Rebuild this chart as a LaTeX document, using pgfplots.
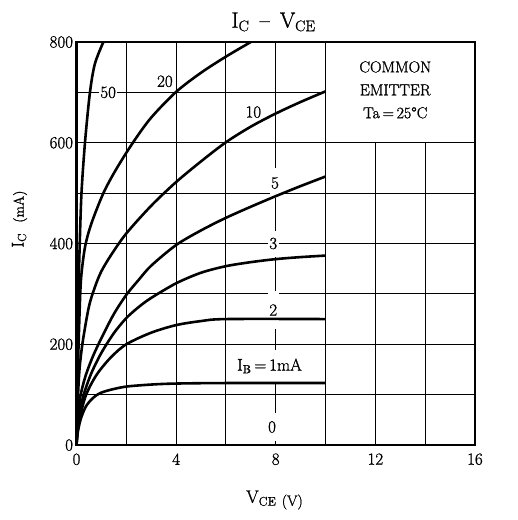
\documentclass[border=0pt]{standalone}
\usepackage{fontspec}
\setmainfont{Latin Modern Roman}[AutoFakeBold=1.2]
\usepackage{pgfplots}
\pgfplotsset{compat=1.18}

\begin{document}
\begin{tikzpicture}[every node/.append style={font=\bfseries}]
\begin{axis}[
    at={(0,0)}, anchor=south west,
    scale only axis,
    width=398.5bp, height=403bp,
    xmin=0, xmax=16, ymin=0, ymax=800,
    xtick={0,4,...,16},
    ytick={0,200,...,800},
    major tick length=0pt,
    axis line style={line width=2.2pt},
    tick label style={font=\fontsize{17}{19}\selectfont\bfseries},
    xticklabel style={yshift=-5bp},
    /pgf/number format/assume math mode=true,
]
% grid (the top right corner is left free for the text box)
\pgfplotsinvokeforeach{100,200,...,600}{
  \draw[line width=1pt] (axis cs:0,#1) -- (axis cs:16,#1);
}
\draw[line width=1pt] (axis cs:0,700) -- (axis cs:10,700);
\pgfplotsinvokeforeach{2,4,...,10}{
  \draw[line width=1pt] (axis cs:#1,0) -- (axis cs:#1,800);
}
\pgfplotsinvokeforeach{12,14}{
  \draw[line width=1pt] (axis cs:#1,0) -- (axis cs:#1,600);
}

% labels that cut the grid lines (drawn before the curves)
\tikzset{lbl/.style={fill=white, inner sep=1.5pt, font=\fontsize{17}{19}\selectfont\bfseries}}
\node[lbl] at (axis cs:1.27,700) {50};
\node[lbl] at (axis cs:3.55,722) {20};
\node[lbl] at (axis cs:7.1,661) {10};
\node[lbl, minimum height=30bp] at (axis cs:7.97,520) {5};
\node[lbl, minimum height=26bp] at (axis cs:7.9,400) {3};
\node[lbl, minimum height=38bp] at (axis cs:7.9,268) {2};
\node[lbl, minimum height=32bp] at (axis cs:7.75,157) {I$_{\mathbf{B}}$\,=\,1mA};
\node[lbl, minimum height=28bp] at (axis cs:7.85,36) {0};

% I_B = 0
\addplot[line width=2.6pt] coordinates {(0,0) (10,0)};
% I_B = 1 mA
\addplot[smooth, line width=2.6pt] coordinates {
  (0,0) (0.05,25) (0.12,42) (0.2,56) (0.35,74) (0.5,85) (0.75,97)
  (1,104) (1.4,110) (2,116) (3,120) (4,122) (6,123) (10,123)};
% I_B = 2 mA
\addplot[smooth, line width=2.6pt] coordinates {
  (0,0) (0.05,30) (0.15,58) (0.35,95) (0.6,122) (0.9,146) (1.4,175)
  (2,200) (3,223) (4,238) (5,246) (6,250) (10,250)};
% I_B = 3 mA
\addplot[smooth, line width=2.6pt] coordinates {
  (0,0) (0.05,35) (0.15,70) (0.3,102) (0.6,143) (1,183) (1.5,222)
  (2,252) (2.5,274) (3,292) (4,321) (5,342) (6,355) (7,363) (8,369)
  (9,373) (10,376)};
% I_B = 5 mA
\addplot[smooth, line width=2.6pt] coordinates {
  (0,0) (0.05,50) (0.15,95) (0.35,135) (0.65,175) (1,212) (1.5,260)
  (2,298) (2.5,328) (3,356) (4,397) (5,426) (6,451) (7,473) (8,494)
  (9,514) (10,533)};
% I_B = 10 mA
\addplot[smooth, line width=2.6pt] coordinates {
  (0,0) (0.05,85) (0.12,150) (0.25,205) (0.5,275) (0.75,315) (1,345)
  (1.4,378) (2,420) (3,475) (4,522) (5,563) (6,601) (7,632) (8,658)
  (9,681) (10,702)};
% I_B = 20 mA
\addplot[smooth, line width=2.6pt] coordinates {
  (0,0) (0.05,140) (0.14,287) (0.2,340) (0.35,395) (0.6,440) (1.08,500)
  (1.6,548) (2.29,602) (3,650) (4,701) (5,739) (6,771) (7,800)};
% I_B = 50 mA
\addplot[smooth, line width=2.6pt] coordinates {
  (0,0) (0.04,150) (0.08,300) (0.13,400) (0.2,500) (0.34,600)
  (0.54,700) (0.74,757) (1.08,800)};

\node[align=center, font=\fontsize{16}{23}\selectfont\bfseries] at (axis cs:12.8,705)
  {COMMON\\EMITTER\\Ta\,=\,25°C};
\end{axis}

% title and axis labels
\node[font=\fontsize{22}{24}\selectfont\bfseries] at (197bp,423bp)
  {I$_{\mathbf{C}}$ \,--\, V$_{\mathbf{CE}}$};
\node[font=\fontsize{17}{19}\selectfont\bfseries, rotate=90] at (-57bp,226bp)
  {I$_{\mathbf{C}}$ \ {\fontsize{14}{16}\selectfont\bfseries (mA)}};
\node[font=\fontsize{18}{20}\selectfont\bfseries] at (198bp,-55bp)
  {V$_{\mathbf{CE}}$ \raisebox{-3bp}{\fontsize{15}{17}\selectfont\bfseries (V)}};

\pgfresetboundingbox
\path[use as bounding box] (-76.5bp,-75bp) rectangle (441.5bp,445bp);
\end{tikzpicture}
\end{document}
